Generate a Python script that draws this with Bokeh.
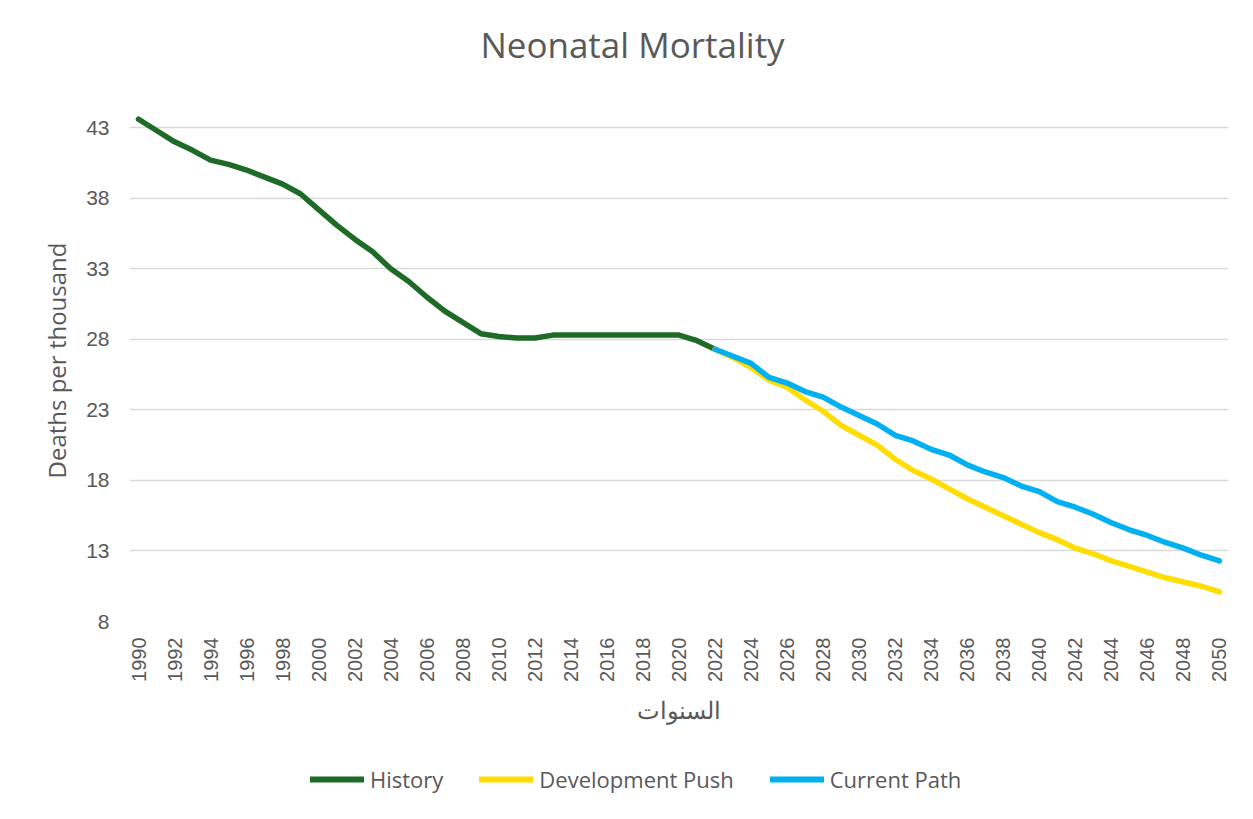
import math
from bokeh.plotting import figure
from bokeh.models import Legend, LegendItem, FixedTicker, Label
from bokeh.layouts import column
from bokeh.embed import file_html
from bokeh.resources import INLINE

# ---------------- data ----------------
hist_years = list(range(1990, 2023))
history = [43.6, 42.8, 42.0, 41.4, 40.7, 40.4, 40.0, 39.5, 39.0, 38.3,
           37.2, 36.1, 35.1, 34.2, 33.0, 32.1, 31.0, 30.0, 29.2, 28.4,
           28.2, 28.1, 28.1, 28.3, 28.3, 28.3, 28.3, 28.3, 28.3, 28.3,
           28.3, 27.9, 27.3]

proj_years = list(range(2022, 2051))
development_push = [27.3, 26.7, 26.0, 25.1, 24.6, 23.7, 22.9, 21.9, 21.2, 20.5,
                    19.5, 18.7, 18.1, 17.4, 16.7, 16.1, 15.5, 14.9, 14.3, 13.8,
                    13.2, 12.8, 12.3, 11.9, 11.5, 11.1, 10.8, 10.5, 10.1]
current_path = [27.3, 26.8, 26.3, 25.3, 24.9, 24.3, 23.9, 23.2, 22.6, 22.0,
                21.2, 20.8, 20.2, 19.8, 19.1, 18.6, 18.2, 17.6, 17.2, 16.5,
                16.1, 15.6, 15.0, 14.5, 14.1, 13.6, 13.2, 12.7, 12.3]

x_ticks = list(range(1990, 2051, 2))
y_ticks = [8, 13, 18, 23, 28, 33, 38, 43]

title_text = "Neonatal Mortality"
x_title = "السنوات"
y_title = "Deaths per thousand"
series_names = ["History", "Development Push", "Current Path"]
colors = ["#1D6B27", "#FFDD00", "#00B0F0"]

TXT = "#595959"
GRID = "#D9D9D9"
LW = 5.5


def strip(height):
    f = figure(width=1245, height=height, x_range=(0, 1), y_range=(0, 1),
               x_axis_type=None, y_axis_type=None,
               output_backend="svg", toolbar_location=None,
               min_border_left=0, min_border_right=0, min_border_top=0, min_border_bottom=0)
    f.outline_line_color = None
    f.xgrid.grid_line_color = None
    f.ygrid.grid_line_color = None
    f.border_fill_color = "white"
    f.background_fill_color = "white"
    return f


# ---- title strip ----
t = strip(70)
t.add_layout(Label(x=0.4577, y=0.371, text=title_text, text_align="center",
                   text_baseline="middle", text_font="Open Sans",
                   text_font_size="35px", text_color=TXT))

# ---- main chart ----
p = figure(width=1245, height=670, x_range=(1989.5, 2050.5), y_range=(8, 45),
           output_backend="svg", toolbar_location=None,
           min_border_left=129, min_border_right=17,
           min_border_top=29, min_border_bottom=119)
p.outline_line_color = None
p.background_fill_color = "white"
p.border_fill_color = "white"

p.line(hist_years, history, line_color=colors[0], line_width=LW,
       line_cap="round", line_join="round")
p.line(proj_years, development_push, line_color=colors[1], line_width=LW,
       line_cap="round", line_join="round")
p.line(proj_years, current_path, line_color=colors[2], line_width=LW,
       line_cap="round", line_join="round")

p.xaxis.ticker = FixedTicker(ticks=x_ticks)
p.yaxis.ticker = FixedTicker(ticks=y_ticks)
p.xaxis.major_label_orientation = math.pi / 2
for ax in (p.xaxis[0], p.yaxis[0]):
    ax.axis_line_color = None
    ax.major_tick_line_color = None
    ax.minor_tick_line_color = None
    ax.major_tick_out = 0
    ax.major_tick_in = 0
    ax.minor_tick_out = 0
    ax.major_label_text_color = TXT
    ax.major_label_text_font = "Liberation Sans"
    ax.axis_label_text_color = TXT
    ax.axis_label_text_font = "Open Sans"
    ax.axis_label_text_font_style = "normal"
    ax.axis_label_text_font_size = "24px"
p.yaxis.major_label_text_font_size = "21px"
p.xaxis.major_label_text_font_size = "20px"
p.yaxis.major_label_standoff = 20
p.xaxis.major_label_standoff = 16
p.yaxis.axis_label = y_title
p.xaxis.axis_label = x_title
p.yaxis.axis_label_standoff = 10
p.xaxis.axis_label_standoff = 8

p.xgrid.grid_line_color = None
p.ygrid.ticker = FixedTicker(ticks=y_ticks)
p.ygrid.grid_line_color = GRID
p.ygrid.grid_line_width = 1.5

# ---- legend strip (series drawn out of its view, only the legend shows) ----
q = strip(71)
lr = [q.line(hist_years, history, line_color=colors[0], line_width=LW + 0.5, line_cap="round"),
      q.line(proj_years, development_push, line_color=colors[1], line_width=LW + 0.5, line_cap="round"),
      q.line(proj_years, current_path, line_color=colors[2], line_width=LW + 0.5, line_cap="round")]

legend = Legend(items=[LegendItem(label=n, renderers=[r]) for n, r in zip(series_names, lr)],
                orientation="horizontal", location=(181, 17),
                padding=0, margin=0, spacing=36, glyph_width=54, glyph_height=24,
                label_standoff=6, label_height=24,
                label_text_font_size="22px", label_text_color=TXT,
                label_text_font="Open Sans",
                border_line_alpha=0, background_fill_alpha=0)
q.add_layout(legend, "center")

open("out.html", "w").write(file_html(column(t, p, q), INLINE))
